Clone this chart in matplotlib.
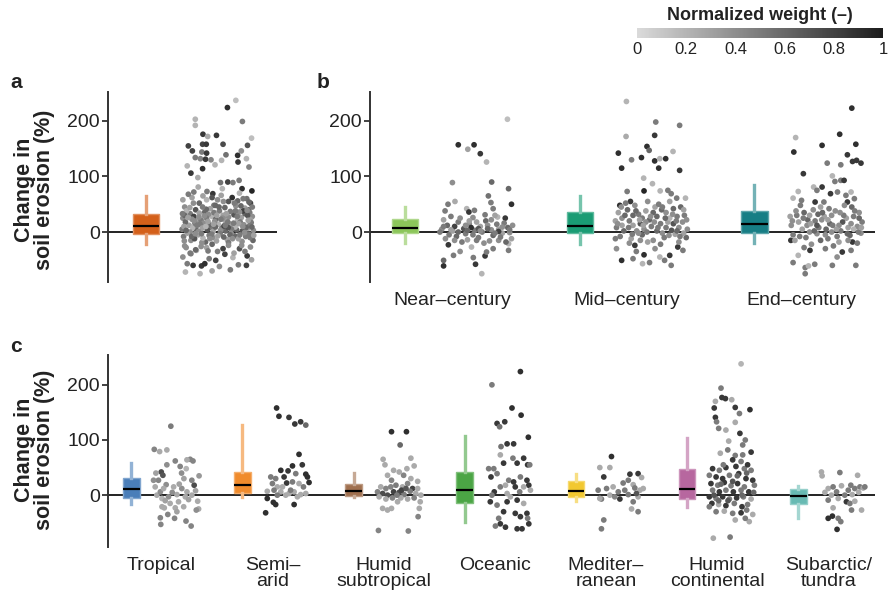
import numpy as np
import matplotlib.pyplot as plt
from matplotlib.colors import LinearSegmentedColormap, to_rgb

plt.rcParams["font.family"] = ["Liberation Sans", "DejaVu Sans"]

# box stats per group: (q1, median, q3, whisker low, whisker high)
ALL_BOX = (-3, 11, 32, -22, 65)
ALL_COLOR = "#d4601a"

PERIODS = ["Near–century", "Mid–century", "End–century"]
PERIOD_COLORS = ["#8cc65a", "#1a9c74", "#177e85"]
PERIOD_BOXES = [(-2, 7, 23, -20, 45), (-2, 11, 36, -22, 65), (-2, 14, 38, -20, 85)]

CLIMATES = ["Tropical", "Semi–\narid", "Humid\nsubtropical", "Oceanic",
            "Mediter–\nranean", "Humid\ncontinental", "Subarctic/\ntundra"]
CLIMATE_COLORS = ["#4a7eb9", "#f08b2c", "#a0704f", "#4ba545",
                  "#f2c830", "#b7679f", "#68bab3"]
CLIMATE_BOXES = [(-5, 11, 31, -16, 58), (4, 18, 42, -3, 127), (-2, 8, 21, -4, 40),
                 (-15, 9, 42, -49, 107), (-3, 7, 25, -11, 38), (-7, 11, 47, -22, 104),
                 (-16, -2, 11, -42, 16)]

# scatter points: (jitter within cloud -1..1, change %, normalized weight)
ALL_PTS = [
    (.5, 237, .15), (.27, 224, .9), (.68, 199, .5), (-.61, 203, .2), (-.61, 192, .2), (.93, 169, .15),
    (-.4, 176, .85), (-.27, 172, .25), (-.03, 174, .85), (-.8, 155, .8), (-.41, 158, .8), (-.31, 158, .85),
    (.15, 158, .75), (.82, 156, .7), (.65, 146, .4), (-.69, 146, .8), (-.43, 144, .5), (-.3, 142, .85),
    (.23, 139, .55), (.55, 138, .9), (-.61, 134, .5), (-.47, 132, .45), (-.33, 131, .85), (-.18, 130, .45),
    (.11, 129, .2), (.56, 126, .85), (.79, 132, .2), (-.07, 121, .2), (.86, 117, .45), (-.41, 114, .9),
    (-.83, 119, .2), (-.73, 106, .85), (-.54, 98, .25), (.08, 89, .55), (.28, 90, .8), (.42, 89, .5),
    (.59, 93, .5), (.13, 78, .2), (.67, 78, .9), (.94, 74, .95), (-.53, 81, .25), (-.65, 72, .5),
    (-.29, 73, .5), (-.13, 69, .85), (.8, 60, .55),
    (-.83, -57, .5), (-.88, -72, .2), (-.67, -60, .85), (-.44, -61, .85), (-.35, -57, .9), (-.48, -75, .2),
    (-.23, -48, .5), (-.05, -51, .8), (.2, -40, .8), (.42, -46, .2), (.57, -59, .5), (.79, -60, .8),
    (.81, -43, .85), (-.73, -39, .5), (-.58, -33, .2), (.05, -62, .4), (.93, -50, .3), (-.95, -45, .4),
    (.35, -68, .5), (-.15, -70, .3),
    (-.9, 45, .4), (-.7, 62, .3), (-.5, 52, .6), (-.3, 58, .2), (-.1, 48, .5), (.1, 66, .3), (.3, 55, .7),
    (.5, 47, .4), (.7, 60, .5), (.9, 52, .8), (-.8, 68, .5), (-.2, 42, .3), (.2, 44, .6), (.6, 70, .2),
    (.85, 40, .6), (-.6, 40, .7), (0, 58, .4), (.4, 62, .9), (-.4, 65, .3), (.75, 43, .3), (.95, 45, .5),
    (-.95, 58, .3), (.55, 56, .6), (-.15, 62, .7),
    (-.95, 25, .4), (-.75, 33, .5), (-.55, 22, .3), (-.35, 36, .6), (-.15, 28, .2), (.05, 38, .5),
    (.25, 24, .4), (.45, 31, .7), (.65, 26, .3), (.88, 35, .5), (-.85, 38, .2), (-.65, 28, .8),
    (-.45, 21, .5), (-.25, 32, .4), (-.05, 23, .6), (.15, 30, .3), (.35, 37, .5), (.55, 22, .2),
    (.75, 33, .6), (.95, 28, .4), (-.9, 30, .6), (-.5, 34, .3), (-.1, 35, .5), (.3, 27, .4), (.7, 38, .8),
    (.2, 21, .3), (-.3, 25, .5), (.6, 36, .4), (-.7, 23, .4), (.9, 22, .3), (.82, 30, .7), (-.02, 30, .3),
    (-.97, 5, .5), (-.78, 12, .3), (-.58, 3, .6), (-.38, 16, .4), (-.18, 8, .5), (.02, 14, .2), (.22, 2, .6),
    (.42, 11, .4), (.62, 18, .5), (.82, 6, .3), (-.88, 18, .6), (-.68, 8, .2), (-.48, 14, .5), (-.28, 4, .7),
    (-.08, 19, .4), (.12, 7, .5), (.32, 15, .3), (.52, 4, .6), (.72, 13, .4), (.92, 17, .5), (-.92, 10, .3),
    (-.62, 16, .5), (-.42, 7, .3), (-.22, 13, .6), (.08, 3, .4), (.28, 18, .5), (.48, 9, .2), (.68, 2, .7),
    (.88, 12, .5), (-.12, 1, .3), (.18, 11, .8), (-.52, 1, .4), (.58, 15, .3), (.38, 5, .5), (-.75, 0, .4),
    (.98, 3, .4), (-.32, 10, .2), (.78, 8, .6),
    (-.93, -8, .5), (-.73, -15, .4), (-.53, -5, .3), (-.33, -18, .6), (-.13, -10, .4), (.07, -3, .5),
    (.27, -14, .3), (.47, -7, .6), (.67, -17, .4), (.87, -4, .5), (-.83, -2, .3), (-.63, -12, .7),
    (-.43, -19, .4), (-.23, -6, .5), (-.03, -16, .3), (.17, -9, .6), (.37, -2, .4), (.57, -12, .3),
    (.77, -8, .5), (.97, -15, .6), (-.4, -11, .2), (.3, -19, .5),
    (-.9, -25, .4), (-.6, -32, .6), (-.3, -28, .3), (0, -35, .5), (.3, -24, .4), (.6, -30, .7),
    (.9, -27, .4), (-.75, -38, .5), (-.15, -22, .6), (.45, -38, .3), (.75, -35, .5), (-.45, -26, .4),
    (.15, -30, .8),
    (-.86, 3, .6), (-.64, 20, .4), (-.44, -3, .5), (-.26, 19, .3), (-.06, 9, .6), (.14, 25, .4),
    (.34, -5, .6), (.54, 28, .5), (.74, -1, .4), (.94, 9, .6), (-.96, 33, .5), (-.76, 44, .3),
    (-.56, 12, .5), (-.36, 29, .4), (-.16, -4, .5), (.04, 45, .6), (.24, 33, .3), (.44, 16, .5),
    (.64, 47, .6), (.84, 21, .3), (-.91, -16, .4), (-.71, -8, .6), (-.51, 27, .4), (-.31, 41, .6),
    (-.11, 14, .3), (.09, 23, .5), (.29, 8, .7), (.49, 38, .5), (.69, 10, .4), (.89, -10, .5),
    (-.81, 26, .3), (-.61, -3, .4), (-.41, 45, .5), (-.21, -12, .4), (.01, -7, .3), (.21, 12, .5),
    (.41, -12, .4), (.61, -5, .5), (.81, 39, .4), (.99, -6, .3), (-.66, 52, .4), (-.06, 48, .6),
    (.46, 52, .5), (.16, 55, .4), (-.86, -28, .4), (.66, -24, .4), (-.26, -34, .5), (.86, 54, .6),
]

NEAR_PTS = [
    (.84, 203, .15), (-.5, 157, .9), (-.24, 149, .3), (-.07, 157, .9), (.1, 141, .85), (.27, 126, .2),
    (-.66, 89, .4), (.41, 90, .6), (.87, 78, .6), (-.59, 55, .25), (.32, 65, .55), (.39, 53, .5),
    (.95, 50, .9), (-.78, 50, .5), (-.86, 38, .5), (-.27, 42, .2), (-.21, 36, .85), (-.06, 39, .5),
    (.23, 31, .5), (.45, 42, .5), (.57, 27, .2), (.78, 25, .85),
    (-.9, -51, .6), (-.9, -61, .9), (.14, -75, .2), (-.09, -46, .5), (-.03, -58, .85), (.23, -43, .85),
    (.27, -36, .5), (-.77, -23, .85), (-.63, -42, .5), (-.14, -27, .2), (.45, -30, .5), (.87, -33, .5),
    (.87, -21, .2), (-.45, -35, .4), (.6, -15, .4),
    (-.95, 5, .4), (-.8, 12, .6), (-.65, 2, .3), (-.5, 18, .5), (-.35, 6, .7), (-.2, 15, .4), (-.05, 3, .5),
    (.1, 10, .3), (.25, 20, .6), (.4, 4, .4), (.55, 14, .5), (.7, -2, .3), (.85, 8, .6), (-.9, 22, .3),
    (-.75, -5, .5), (-.6, 10, .8), (-.45, 25, .4), (-.3, -3, .5), (-.15, 8, .9), (0, 18, .3), (.15, 0, .5),
    (.3, 12, .4), (.45, -6, .6), (.6, 5, .3), (.75, 16, .5), (.9, -1, .4), (-.85, -12, .4), (-.55, -8, .6),
    (-.25, -14, .3), (.05, -10, .5), (.35, -16, .4), (.65, -9, .5), (.95, -12, .3), (-.7, 28, .5),
    (-.1, 26, .4), (.5, 30, .3), (.2, -20, .4), (-.4, -18, .5), (.8, -18, .6), (-1, 0, .5), (.98, 12, .4),
    (-.25, 3, .6), (.05, 6, .7), (.6, 1, .8),
    (-.9, 10, .5), (-.7, 4, .3), (-.5, 0, .6), (-.3, 12, .4), (-.1, -5, .5), (.1, 2, .4), (.3, 6, .6),
    (.5, -2, .5), (.7, 9, .4), (.9, 4, .5), (-.6, -15, .4), (0, -15, .5), (.4, 22, .4), (-.2, 20, .3),
]

MID_PTS = [
    (-.68, 235, .2), (.12, 198, .5), (.77, 192, .5), (.09, 174, .85), (-.69, 172, .25), (-.12, 154, .9),
    (-.06, 147, .6), (-.9, 142, .9), (-.27, 134, .9), (-.54, 130, .5), (.09, 128, .9), (.23, 132, .2),
    (.39, 132, .9), (.59, 145, .2), (-.81, 115, .9), (.2, 115, .9), (.77, 111, .85), (-.21, 97, .2),
    (.03, 87, .2), (-.2, 74, .95), (.24, 74, .2), (.45, 75, .5), (-.66, 73, .5), (-.86, 48, .9),
    (-.57, 55, .85), (.54, 69, .5), (.69, 61, .5), (.93, 61, .2),
    (-.81, -51, .9), (-.5, -48, .5), (-.2, -41, .9), (-.24, -57, .2), (-.05, -55, .5), (.23, -45, .2),
    (.36, -51, .5), (.54, -60, .5), (.5, -42, .85), (.72, -27, .85), (.86, -33, .5), (-.41, -35, .5),
    (-.45, -24, .85), (.1, -30, .4), (-.95, -30, .4),
    (-.95, 8, .5), (-.8, 25, .4), (-.65, 40, .6), (-.5, 12, .3), (-.35, 32, .5), (-.2, 5, .4), (-.05, 22, .6),
    (.1, 45, .3), (.25, 15, .5), (.4, 35, .4), (.55, 3, .7), (.7, 28, .5), (.85, 18, .4), (-.9, 35, .3),
    (-.75, 2, .6), (-.6, 20, .5), (-.45, 48, .4), (-.3, 15, .7), (-.15, 38, .3), (0, 10, .5), (.15, 28, .6),
    (.3, -2, .4), (.45, 18, .3), (.6, 42, .6), (.75, 8, .4), (.9, 30, .5), (-.85, -8, .5), (-.55, -12, .3),
    (-.25, -5, .6), (.05, -15, .4), (.35, -10, .5), (.65, -4, .3), (.95, -10, .6), (-.7, 52, .5),
    (-.1, 55, .4), (.5, 55, .3), (.2, 50, .5), (-.4, 2, .4), (.8, 45, .6), (-.98, 20, .3), (.98, 5, .4),
    (-.25, 25, .5), (.05, 35, .6), (.6, 15, .7), (-.6, -20, .4), (.25, -22, .5), (-.1, -18, .3),
    (.75, -18, .4), (-.8, 12, .3), (.4, 8, .5), (-.35, -2, .4), (.15, 2, .6), (.88, -2, .3), (-.15, 18, .4),
    (.5, 25, .2), (-.5, 30, .6),
    (-.92, 15, .4), (-.72, 30, .6), (-.52, -4, .5), (-.32, 22, .3), (-.12, 0, .5), (.08, 18, .4),
    (.28, 40, .6), (.48, -6, .4), (.68, 20, .5), (.88, 40, .3), (-.82, 45, .4), (-.62, 8, .5),
    (-.42, 38, .6), (-.22, 12, .3), (-.02, 28, .4), (.18, 8, .5), (.38, 25, .6), (.58, 32, .4),
    (.78, -8, .5), (.96, 22, .4), (-.98, -12, .5), (-.3, -15, .4), (.3, 45, .5), (.7, 2, .6),
]

END_PTS = [
    (.7, 223, .9), (.37, 176, .9), (-.83, 170, .2), (-.11, 156, .9), (.81, 158, .9), (-.88, 144, .9),
    (.58, 139, .85), (.72, 127, .85), (.83, 129, .85), (.95, 124, .85), (.03, 124, .5), (.4, 121, .5),
    (-.62, 105, .85), (.17, 101, .2), (.24, 91, .5), (.4, 93, .5), (.49, 93, .85), (-.11, 81, .85),
    (-.34, 81, .2), (-.76, 73, .2), (-.25, 75, .5), (.12, 69, .85), (.31, 72, .5), (.54, 66, .5),
    (.68, 72, .2), (-.9, 61, .2), (-.67, 57, .5), (-.3, 54, .85), (-.06, 54, .5), (.58, 54, .85),
    (.77, 60, .5),
    (-.9, -55, .5), (-.57, -64, .5), (-.48, -61, .2), (-.31, -58, .5), (-.57, -75, .5), (.17, -60, .5),
    (.81, -60, .5), (-.76, -42, .2), (-.44, -33, .85), (-.02, -30, .5), (.44, -36, .85), (.68, -33, .5),
    (.72, -18, .85), (-.96, -15, .85), (.3, -45, .4),
    (-.95, 12, .4), (-.8, 30, .5), (-.65, 5, .3), (-.5, 22, .6), (-.35, 40, .4), (-.2, 8, .5), (-.05, 28, .3),
    (.1, 15, .6), (.25, 38, .4), (.4, 2, .5), (.55, 25, .3), (.7, 45, .6), (.85, 10, .4), (-.9, -5, .5),
    (-.75, 18, .3), (-.6, 35, .6), (-.45, 0, .4), (-.3, 20, .5), (-.15, 45, .3), (0, 5, .6), (.15, 30, .4),
    (.3, -8, .5), (.45, 18, .7), (.6, 8, .3), (.75, 28, .5), (.9, 35, .4), (-.85, -15, .3), (-.55, -10, .5),
    (-.25, -3, .4), (.05, -12, .5), (.35, -18, .3), (.65, -6, .6), (.95, -2, .4), (-.7, 48, .5),
    (-.1, 35, .6), (.5, 48, .4), (.2, -25, .5), (-.4, -22, .4), (.85, -20, .5), (-.98, 28, .3),
    (.98, 18, .5), (-.25, 12, .7), (.05, 22, .3), (.6, -15, .4), (-.6, -28, .5), (.35, 12, .4),
    (-.15, -15, .6), (.75, 5, .2), (-.45, 30, .3), (.15, 0, .4), (.9, 25, .6),
    (-.92, 20, .4), (-.72, -8, .5), (-.52, 12, .4), (-.32, 2, .6), (-.12, 22, .4), (.08, 42, .5),
    (.28, 5, .3), (.48, 30, .5), (.68, 15, .4), (.88, 0, .5), (-.82, 38, .4), (-.62, 25, .5),
    (-.42, 15, .3), (-.22, 32, .6), (-.02, -5, .4), (.18, 12, .5), (.38, 35, .4), (.58, -3, .6),
    (.78, 38, .5), (.96, 8, .3),
]

TROPICAL_PTS = [
    (-.26, 125, .5), (-.97, 83, .45), (-.74, 79, .25), (-.43, 82, .25), (.57, 65, .45), (.69, 62, .45),
    (.43, 64, .25), (-.07, 62, .45), (.14, 52, .45), (-.67, 42, .75), (-.6, 36, .7), (-.79, 27, .45),
    (-.43, 55, .4), (.4, 48, .2), (.74, 18, .75), (.64, 27, .45), (-.93, 15, .25), (-.46, 19, .4),
    (-.14, 15, .25), (.21, 12, .4), (.43, 6, .25), (-.86, 0, .25), (-.64, -6, .2), (-.36, -3, .4),
    (0, 1, .25), (.36, -3, .25), (.64, 0, .25), (.89, -11, .25), (-.71, 6, .4), (.07, -12, .25),
    (-.29, -15, .25), (-1, 27, .4), (-.57, 12, .25), (-.54, -23, .25), (-.64, -21, .25), (-.07, -23, .25),
    (.29, -21, .25), (.93, -25, .25), (.83, -27, .4), (-.71, -41, .45), (-.39, -35, .45), (-.1, -42, .45),
    (.39, -47, .45), (-.69, -53, .45), (.61, -56, .45), (.1, 20, .3), (.8, 8, .3), (-.2, 5, .4),
    (.5, -8, .3), (-.5, -10, .3), (.3, 30, .3), (-.9, 40, .3), (.95, 35, .35), (0, -30, .3), (.2, 40, .4),
]

SEMIARID_PTS = [
    (-.49, 158, .9), (-.39, 143, .9), (.04, 141, .85), (.29, 129, .85), (.54, 133, .85), (.76, 127, .6),
    (.47, 74, .9), (.19, 53, .9), (.61, 55, .85), (-.31, 45, .9), (0, 44, .85), (-.53, 30, .5),
    (-.17, 33, .85), (.33, 39, .5), (.76, 38, .9), (.83, 33, .9), (.9, 23, .9), (-.67, 21, .5),
    (-.46, 15, .25), (-.06, 22, .85), (.47, 21, .25), (.66, 15, .5), (-.89, 7, .25), (-.6, 9, .5),
    (-.31, 6, .25), (.04, 3, .25), (.26, 6, .25), (.54, 1, .25), (.76, 3, .25), (-.46, 0, .5),
    (-.1, 0, .25), (.4, -3, .25), (-.89, -6, .9), (-.63, -13, .9), (-.53, -17, .9), (.26, -17, .9),
    (-.96, -32, .9), (.11, 9, .5), (-.24, 15, .25), (-.74, 33, .5), (.19, 24, .5),
]

SUBTROPICAL_PTS = [
    (-.33, 115, .9), (.31, 115, .9), (.04, 91, .6), (-.69, 65, .25), (-.61, 55, .25), (.5, 67, .25),
    (.64, 53, .25), (-.24, 45, .25), (0, 42, .25), (.33, 48, .25), (-.5, 36, .25), (.19, 36, .45),
    (.5, 30, .25), (-.33, 27, .45), (.79, 25, .25), (-.79, 15, .25), (-.57, 12, .45), (-.36, 15, .45),
    (-.14, 18, .5), (.14, 15, .25), (.36, 21, .45), (.57, 12, .8), (.79, 12, .25), (-.93, 6, .45),
    (-.71, 3, .75), (-.5, 0, .75), (-.24, 6, .8), (0, 5, .75), (.21, 1, .5), (.47, 7, .5), (.71, 3, .25),
    (.93, 0, .25), (-.86, -3, .25), (-.57, -7, .25), (-.29, -5, .45), (.07, -5, .25), (.36, -7, .25),
    (.64, -5, .45), (.9, -12, .25), (-.07, -12, .25), (-.71, -24, .25), (-.5, -27, .25), (-.33, -24, .25),
    (.86, -24, .25), (.81, -39, .45), (-.89, -64, .45), (.39, -65, .45), (.1, 9, .8), (-.1, 0, .5),
    (.29, 12, .7),
]

OCEANIC_PTS = [
    (.43, 224, .9), (-.79, 200, .5), (.07, 158, .9), (.46, 145, .9), (-.57, 130, .85), (-.46, 124, .55),
    (-.24, 133, .85), (.77, 105, .9), (-.4, 88, .55), (-.14, 93, .85), (.14, 93, .85), (-.43, 73, .25),
    (.11, 67, .5), (.57, 67, .85), (-.71, 48, .5), (-.29, 58, .85), (.29, 58, .85), (.74, 55, .85),
    (.83, 55, .5), (-.57, 39, .5), (-.93, 48, .5), (-.83, 33, .85), (-.07, 27, .5), (.14, 24, .85),
    (.43, 33, .5), (.71, 27, .85), (.79, 18, .85), (-.43, 15, .5), (-.21, 18, .25), (.21, 15, .85),
    (.57, 15, .25), (-.69, 6, .85), (-.14, 3, .25), (.4, 6, .5), (.86, 9, .25), (-.86, -12, .85),
    (-.57, -18, .5), (-.14, -12, .85), (.29, -9, .85), (.57, -15, .25), (-.29, -30, .85), (.21, -33, .85),
    (.71, -33, .85), (-.5, -42, .5), (.43, -39, .85), (-.43, -52, .85), (-.64, -56, .5), (-.21, -58, .85),
    (.29, -61, .85), (.5, -61, .85), (.79, -52, .85), (.74, -42, .5), (0, -3, .25), (-.79, 0, .5),
]

MEDITERRANEAN_PTS = [
    (-.43, 70, .9), (-.93, 50, .25), (-.5, 50, .25), (-.76, 33, .85), (.36, 38, .85), (.71, 39, .85),
    (.07, 22, .5), (.29, 27, .5), (.5, 19, .25), (.86, 32, .25), (-1, 9, .5), (-.64, 12, .5),
    (-.36, 15, .25), (-.14, 6, .5), (.14, 9, .5), (.57, 13, .5), (.79, 9, .25), (-.86, -7, .5),
    (-.5, 0, .25), (-.07, -7, .85), (.29, 1, .5), (.71, -3, .25), (-.93, -6, .25), (.5, -12, .5),
    (.93, 12, .25), (.43, -25, .25), (.71, -30, .5), (-.76, -45, .5), (-.86, -61, .5), (-.29, -3, .45),
    (.64, 3, .7),
]

CONTINENTAL_PTS = [
    (.36, 238, .2), (-.5, 194, .5), (-.46, 177, .85), (-.31, 175, .85), (-.04, 173, .25), (-.74, 170, .25),
    (-.79, 158, .85), (.11, 159, .85), (.74, 155, .9), (.29, 148, .5), (-.74, 141, .85), (-.69, 133, .5),
    (-.6, 121, .5), (-.29, 118, .25), (.11, 132, .25), (.31, 112, .85), (-.17, 98, .25), (.43, 91, .5),
    (.54, 100, .5), (-.53, 76, .25), (-.21, 82, .5), (.11, 72, .5), (.43, 73, .5), (.79, 78, .85),
    (0, 64, .85), (.36, 61, .5), (-.86, 48, .85), (-.57, 45, .5), (-.29, 50, .85), (.14, 52, .85),
    (.5, 48, .5), (.64, 55, .85), (.79, 45, .5), (-1, 36, .5), (-.71, 33, .85), (-.43, 30, .85),
    (-.14, 36, .5), (.26, 39, .85), (.57, 30, .85), (.86, 27, .85), (-.93, 21, .85), (-.64, 18, .5),
    (-.36, 23, .85), (-.07, 17, .5), (.21, 21, .85), (.5, 15, .5), (.93, 18, .5), (-.86, 9, .5),
    (-.57, 6, .85), (-.29, 9, .5), (.03, 6, .85), (.36, 9, .5), (.69, 6, .85), (-1, -3, .85),
    (-.71, -6, .5), (-.43, -3, .85), (-.14, -7, .5), (.17, -5, .85), (.46, -3, .5), (.79, -7, .25),
    (-.89, -15, .85), (-.6, -17, .25), (-.29, -19, .85), (.07, -15, .5), (.4, -21, .85), (.64, -17, .5),
    (-.71, -30, .5), (-.36, -29, .25), (0, -33, .5), (.36, -32, .85), (.6, -27, .5), (.86, -35, .25),
    (.11, -45, .25), (.71, -48, .25), (-.83, -78, .25), (-.11, -76, .5), (.54, -42, .5), (-1, -21, .5),
    (-.5, 20, .6), (0, 25, .7), (.4, 0, .6), (-.2, -10, .7), (.6, 40, .6), (-.4, 55, .5), (.2, 35, .6),
    (-.8, 0, .7), (.9, 5, .6), (-.6, -10, .6),
]

SUBARCTIC_PTS = [
    (-.96, 42, .25), (-.93, 35, .25), (-.17, 41, .5), (.59, 36, .25), (-.67, 12, .25), (-.46, 15, .5),
    (-.1, 17, .25), (.3, 18, .5), (.47, 12, .5), (.69, 15, .5), (.83, 13, .25), (-.81, 5, .25),
    (-.53, 0, .25), (-.31, 6, .5), (.19, 9, .5), (.36, 1, .25), (.64, 5, .25), (-.67, -9, .5),
    (-.24, -6, .25), (.11, -12, .85), (.26, -15, .5), (.47, -11, .25), (.76, -27, .25), (.33, -27, .5),
    (-.46, -23, .25), (-.67, -42, .9), (-.49, -38, .9), (-.24, -42, .5), (-.13, -48, .5), (-.29, -62, .9),
    (.9, 15, .5), (.04, 0, .5),
]

PERIOD_PTS = [NEAR_PTS, MID_PTS, END_PTS]
CLIMATE_PTS = [TROPICAL_PTS, SEMIARID_PTS, SUBTROPICAL_PTS, OCEANIC_PTS,
               MEDITERRANEAN_PTS, CONTINENTAL_PTS, SUBARCTIC_PTS]

CMAP = LinearSegmentedColormap.from_list("wgt", ["#dadada", "#1c1c1c"])
TEXT = "#222222"


def lighten(color, amount):
    r, g, b = to_rgb(color)
    return (r + (1 - r) * amount, g + (1 - g) * amount, b + (1 - b) * amount)


def draw_group(ax, pos, box, color, pts):
    q1, med, q3, lo, hi = box
    stats = [dict(med=med, q1=q1, q3=q3, whislo=lo, whishi=hi, fliers=[])]
    ax.bxp(stats, positions=[pos - 0.27], widths=0.15, patch_artist=True,
           showcaps=False, showfliers=False, manage_ticks=False,
           boxprops=dict(facecolor=color, edgecolor=lighten(color, 0.3), linewidth=1),
           whiskerprops=dict(color=lighten(color, 0.4), linewidth=2.4),
           medianprops=dict(color="black", linewidth=1.6), zorder=3)
    arr = np.array(pts)
    ax.scatter(pos + 0.14 + arr[:, 0] * 0.21, arr[:, 1], c=arr[:, 2], cmap=CMAP,
               vmin=0, vmax=1, s=17, linewidths=0, zorder=2)


def style_axis(ax, ylim, xlim):
    for side in ("top", "right", "bottom"):
        ax.spines[side].set_visible(False)
    ax.spines["left"].set_color("#333333")
    ax.spines["left"].set_linewidth(1.4)
    ax.axhline(0, color="#222222", lw=1.4, zorder=1)
    ax.set_ylim(*ylim)
    ax.set_xlim(*xlim)
    ax.set_yticks([0, 100, 200])
    ax.tick_params(axis="y", length=4, width=1.3, color="#333333", labelsize=14,
                   labelcolor=TEXT, pad=2)
    ax.tick_params(axis="x", length=0, labelsize=14, labelcolor=TEXT, pad=7)


fig = plt.figure(figsize=(8.88, 5.96), dpi=100)

ax_a = fig.add_axes([0.1216, 0.5268, 0.190, 0.3188])
ax_b = fig.add_axes([0.4167, 0.5268, 0.5687, 0.3188])
ax_c = fig.add_axes([0.1216, 0.0822, 0.8637, 0.3221])

draw_group(ax_a, 0, ALL_BOX, ALL_COLOR, ALL_PTS)
style_axis(ax_a, (-90, 252), (-0.49, 0.48))
ax_a.set_xticks([])

for i, (box, col, pts) in enumerate(zip(PERIOD_BOXES, PERIOD_COLORS, PERIOD_PTS)):
    draw_group(ax_b, i, box, col, pts)
style_axis(ax_b, (-90, 252), (-0.47, 2.42))
ax_b.set_xticks(range(len(PERIODS)))
ax_b.set_xticklabels(PERIODS)

for i, (box, col, pts) in enumerate(zip(CLIMATE_BOXES, CLIMATE_COLORS, CLIMATE_PTS)):
    draw_group(ax_c, i, box, col, pts)
style_axis(ax_c, (-94, 254), (-0.48, 6.42))
ax_c.set_xticks(range(len(CLIMATES)))
ax_c.set_xticklabels(CLIMATES, linespacing=0.95)

ylab = "Change in\nsoil erosion (%)"
fig.text(0.039, 1 - 190 / 596, ylab, rotation=90, ha="center", va="center",
         fontsize=15.5, fontweight="bold", color=TEXT, linespacing=0.95)
fig.text(0.039, 1 - 450 / 596, ylab, rotation=90, ha="center", va="center",
         fontsize=15.5, fontweight="bold", color=TEXT, linespacing=0.95)

for lbl, x, y in (("a", 10, 83), ("b", 317, 83), ("c", 10, 347)):
    fig.text(x / 888, 1 - y / 596, lbl, fontsize=15, fontweight="bold",
             color=TEXT, va="center", ha="left")

# colour bar for the weights
cax = fig.add_axes([637 / 888, 1 - 38 / 596, 246 / 888, 10 / 596])
cb = fig.colorbar(plt.cm.ScalarMappable(cmap=CMAP, norm=plt.Normalize(0, 1)),
                  cax=cax, orientation="horizontal")
cb.outline.set_visible(False)
cb.set_ticks([0, 0.2, 0.4, 0.6, 0.8, 1])
cb.set_ticklabels(["0", "0.2", "0.4", "0.6", "0.8", "1"])
cax.tick_params(length=0, labelsize=12, labelcolor=TEXT, pad=3)
fig.text(760 / 888, 1 - 15 / 596, "Normalized weight (–)", fontsize=13,
         fontweight="bold", color=TEXT, ha="center", va="center")

fig.savefig("out.png", dpi=100)
